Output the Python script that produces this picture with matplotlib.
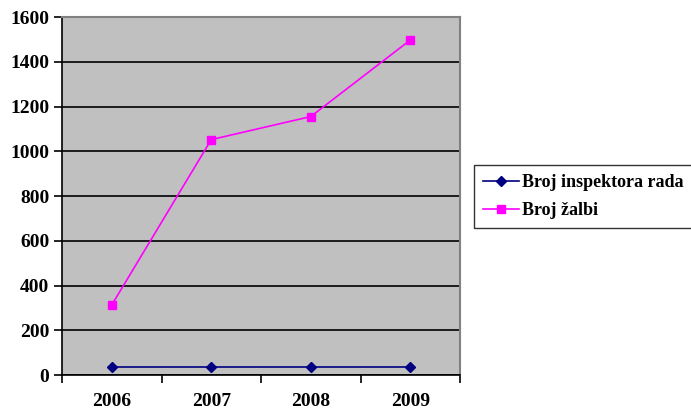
import matplotlib
matplotlib.use("Agg")
import matplotlib.pyplot as plt

years = ["2006", "2007", "2008", "2009"]
inspektori = [37, 37, 37, 37]
zalbe = [313, 1052, 1155, 1497]

plt.rcParams['font.family'] = ['Liberation Serif', 'DejaVu Serif']
plt.rcParams['font.weight'] = 'bold'

fig = plt.figure(figsize=(6.91, 4.12), dpi=100)
W, H = 691, 412
ax = fig.add_axes([62 / W, (H - 375) / H, (460 - 62) / W, (375 - 17) / H])
ax.set_facecolor('#c0c0c0')

x = list(range(len(years)))
l1, = ax.plot(x, inspektori, color='#000080', marker='D', markersize=5, lw=1.2)
l2, = ax.plot(x, zalbe, color='#ff00ff', marker='s', markersize=6, lw=1.2)

ax.set_xlim(-0.5, 3.5)
ax.set_ylim(0, 1600)
ax.set_yticks(range(0, 1601, 200))
ax.yaxis.grid(True, color='black', lw=1.2)
ax.set_axisbelow(True)
ax.set_xticks([-0.5, 0.5, 1.5, 2.5, 3.5])
ax.set_xticklabels([])
ax.set_xticks(x, minor=True)
ax.set_xticklabels(years, minor=True, fontsize=14, fontweight='bold')
ax.tick_params(axis='x', which='minor', length=0, pad=13)
ax.tick_params(axis='x', which='major', length=6, width=1.2, direction='out')
ax.tick_params(axis='y', length=6, width=1.2, direction='out', labelsize=14, pad=3)
for lab in ax.get_yticklabels():
    lab.set_fontweight('bold')

ax.spines['left'].set_color('black')
ax.spines['left'].set_linewidth(1.2)
ax.spines['bottom'].set_color('black')
ax.spines['bottom'].set_linewidth(1.2)
ax.spines['top'].set_color('#808080')
ax.spines['top'].set_linewidth(1.5)
ax.spines['right'].set_color('#808080')
ax.spines['right'].set_linewidth(1.5)

leg = fig.legend([l1, l2], ["Broj inspektora rada", "Broj žalbi"],
                 loc='upper left', bbox_to_anchor=(474 / W, 1 - 165 / H),
                 frameon=True, fancybox=False, edgecolor='black',
                 prop={'family': 'Liberation Serif', 'weight': 'bold', 'size': 13},
                 handlelength=2.0, handletextpad=0.15, borderpad=0.5,
                 labelspacing=0.6, borderaxespad=0)
leg.get_frame().set_linewidth(1.0)

fig.savefig("out.png", dpi=100)
